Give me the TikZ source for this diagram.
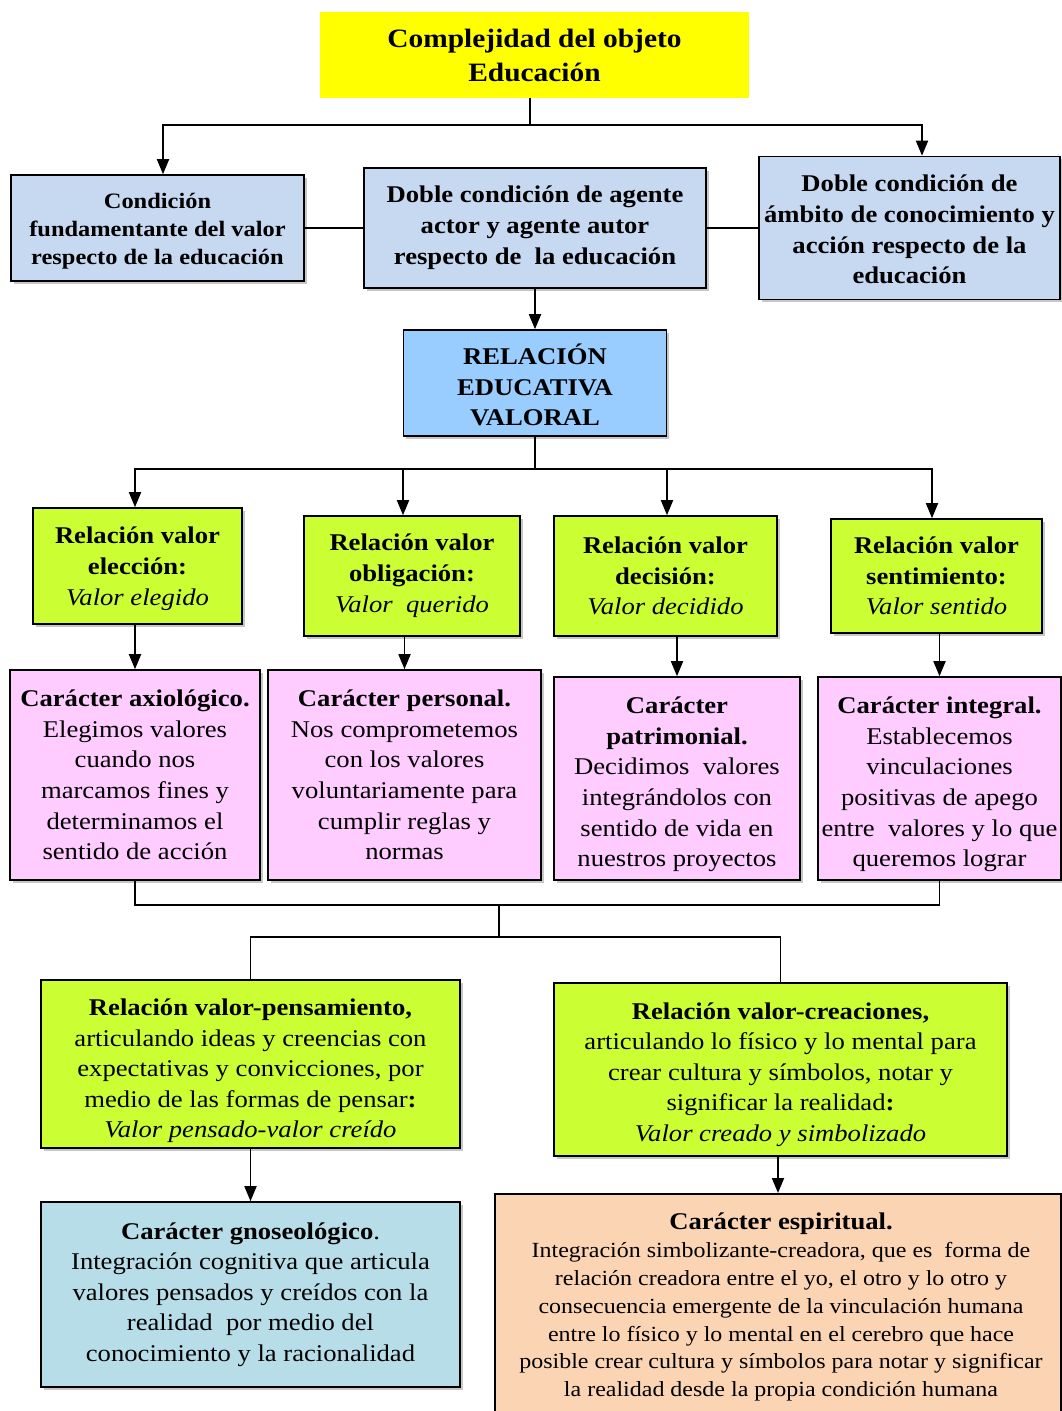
\documentclass[tikz,border=0pt]{standalone}
\usepackage{fontspec}
\setmainfont[FakeStretch=1.11]{Liberation Serif}
\usetikzlibrary{arrows.meta,shadows}
\definecolor{yel}{HTML}{FFFF00}
\definecolor{lblue}{HTML}{C6D9F1}
\definecolor{rblue}{HTML}{99CCFF}
\definecolor{lime}{HTML}{CCFF33}
\definecolor{pink}{HTML}{FFCCFF}
\definecolor{cyanb}{HTML}{B7DEE8}
\definecolor{peach}{HTML}{FBD4B4}
\begin{document}
\begin{tikzpicture}[x=1pt,y=-1pt,
  box/.style={draw=black, line width=1.6pt, inner sep=0pt, align=center,
    drop shadow={shadow xshift=2.5pt,shadow yshift=-2.5pt,fill=gray!55,opacity=0.8}},
  txt/.style={inner sep=0pt, align=center},
  conn/.style={line width=1.8pt},
  arr/.style={conn,-{Triangle[length=15pt,width=12pt]}},
  fA/.style={font=\fontsize{22}{28}\selectfont\bfseries},
  fB/.style={font=\fontsize{24}{30.8}\selectfont\bfseries},
  fN/.style={font=\fontsize{24}{30.6}\selectfont},
  fS/.style={font=\fontsize{21.6}{27.8}\selectfont}]
\useasboundingbox (0,0) rectangle (1062,1411);

% title
\node[fill=yel, inner sep=0pt, align=center, minimum width=429, minimum height=86,
  font=\fontsize{26.5}{34}\selectfont\bfseries] (title) at (534.5,55) {Complejidad del objeto\\Educación};

% level 1
\node[box, fill=lblue, minimum width=293, minimum height=106] (A) at (157.5,228) {};
\node[txt, fA] (At) at ([yshift=-3pt]A.center)
  {Condición\\fundamentante del valor\\respecto de la educación};
\node[box, fill=lblue, fB, minimum width=342, minimum height=120] (B) at (535,228)
  {Doble condición de agente\\actor y agente autor\\respecto de~ la educación};
\node[box, fill=lblue, minimum width=301, minimum height=143] (C) at (909.5,228) {};
\node[txt, fB] (Ct) at ([yshift=-1.5pt]C.center)
  {Doble condición de\\ámbito de conocimiento y\\acción respecto de la\\educación};

% relacion
\node[box, fill=rblue, minimum width=263, minimum height=106] (R) at (535,383) {};
\node[txt, fB] (Rt) at ([yshift=-2pt]R.center) {RELACIÓN\\EDUCATIVA\\VALORAL};

% green row
\node[box, fill=lime, minimum width=209, minimum height=116] (G1) at (137.5,566) {};
\node[txt, fB] (G1t) at ([yshift=-3pt]G1.center)
  {Relación valor\\elección:\\\mdseries\itshape Valor elegido};
\node[box, fill=lime, fB, minimum width=216, minimum height=120] (G2) at (412,576)
  {Relación valor\\obligación:\\\mdseries\itshape Valor~ querido};
\node[box, fill=lime, fB, minimum width=223, minimum height=120] (G3) at (665.5,576)
  {Relación valor\\decisión:\\\mdseries\itshape Valor decidido};
\node[box, fill=lime, fB, minimum width=211, minimum height=114] (G4) at (936.5,576)
  {Relación valor\\sentimiento:\\\mdseries\itshape Valor sentido};

% pink row
\node[box, fill=pink, fN, minimum width=250, minimum height=210] (P1) at (135,775)
  {\textbf{Carácter axiológico.}\\Elegimos valores\\cuando nos\\marcamos fines y\\determinamos el\\sentido de acción};
\node[box, fill=pink, fN, minimum width=273, minimum height=210] (P2) at (404.5,775)
  {\textbf{Carácter personal.}\\Nos comprometemos\\con los valores\\voluntariamente para\\cumplir reglas y\\normas};
\node[box, fill=pink, minimum width=246, minimum height=203] (P3) at (677,778.5) {};
\node[txt, fN] (P3t) at ([yshift=-6pt]P3.center)
  {\textbf{Carácter}\\\textbf{patrimonial.}\\Decidimos~ valores\\integrándolos con\\sentido de vida en\\nuestros proyectos};
\node[box, fill=pink, minimum width=243, minimum height=203] (P4) at (939.5,778.5) {};
\node[txt, fN] (P4t) at ([yshift=-6pt]P4.center)
  {\textbf{Carácter integral.}\\Establecemos\\vinculaciones\\positivas de apego\\entre~ valores y lo que\\queremos lograr};

% bottom green
\node[box, fill=lime, minimum width=419, minimum height=168] (GL) at (250.5,1064) {};
\node[txt, fN] (GLt) at ([yshift=-7pt]GL.center)
  {\textbf{Relación valor-pensamiento,}\\articulando ideas y creencias con\\expectativas y convicciones, por\\medio de las formas de pensar\textbf{:}\\\textit{Valor pensado-valor creído}};
\node[box, fill=lime, minimum width=453, minimum height=173] (GR) at (780.5,1069.5) {};
\node[txt, fN] (GRt) at ([yshift=-5pt]GR.center)
  {\textbf{Relación valor-creaciones,}\\articulando lo físico y lo mental para\\crear cultura y símbolos, notar y\\significar la realidad\textbf{:}\\\textit{Valor creado y simbolizado}};

% bottom boxes
\node[box, fill=cyanb, fN, minimum width=419, minimum height=185] (BL) at (250.5,1294.5)
  {\textbf{Carácter gnoseológico}.\\Integración cognitiva que articula\\valores pensados y creídos con la\\realidad~ por medio del\\conocimiento y la racionalidad};
\node[box, fill=peach, minimum width=566, minimum height=228, anchor=north] (BR) at (778,1193) {};
\node[txt, fS, anchor=north] (BRt) at (781,1213)
  {{\fontsize{24}{29}\selectfont\bfseries Carácter espiritual.}\\Integración simbolizante-creadora, que es~ forma de\\relación creadora entre el yo, el otro y lo otro y\\consecuencia emergente de la vinculación humana\\entre lo físico y lo mental en el cerebro que hace\\posible crear cultura y símbolos para notar y significar\\la realidad desde la propia condición humana};

% connectors
\path (title.south) ++(-4.5,27) coordinate (j1);
\draw[conn] (title.south -| j1) -- (j1);
\draw[arr] (j1) -| ([xshift=5.5pt]A.north);
\draw[arr] (j1) -| ([xshift=12.5pt]C.north);
\draw[conn] (A.east) -- (B.west);
\draw[conn] (B.east) -- (C.west);
\draw[arr] (B.south) -- (R.north);

\path (R.south) ++(0,32) coordinate (j2);
\draw[conn] (R.south) -- (j2);
\draw[arr] (j2) -| ([xshift=-2.5pt]G1.north);
\draw[arr] (j2) -| ([xshift=-9pt]G2.north);
\draw[arr] (j2) -| ([xshift=1.5pt]G3.north);
\draw[arr] (j2) -| ([xshift=-4.5pt]G4.north);

\draw[arr] (G1.south -| P1.north) -- (P1.north);
\draw[arr] (G2.south -| P2.north) -- (P2.north);
\draw[arr] (G3.south -| P3.north) -- (P3.north);
\draw[arr] (G4.south -| P4.north) -- (P4.north);

\coordinate (j3) at (499,905);
\coordinate (j4) at (499,937);
\draw[conn] (P1.south) |- (j3);
\draw[conn] (P4.south) |- (j3);
\draw[conn] (j3) -- (j4);
\draw[conn] (j4) -| (GL.north);
\draw[conn] (j4) -| (GR.north);

\draw[arr] (GL.south) -- (BL.north);
\draw[arr] (GR.south -| BR.north) -- (BR.north);
\end{tikzpicture}
\end{document}
